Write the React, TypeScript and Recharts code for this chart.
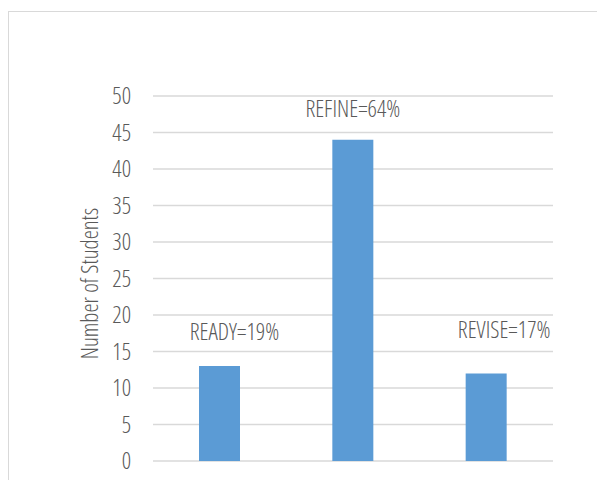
import { BarChart, Bar, XAxis, YAxis, CartesianGrid, LabelList } from "recharts";

const categories = ["READY", "REFINE", "REVISE"];
const students = [13, 44, 12];
const barLabels = ["READY=19%", "REFINE=64%", "REVISE=17%"];
const yTicks = [0, 5, 10, 15, 20, 25, 30, 35, 40, 45, 50];

// label offsets relative to the top-centre of each bar
const LABEL_OFFSETS = [
  { dx: 15, dy: -35 },
  { dx: 0, dy: -32 },
  { dx: 18, dy: -44 },
];

const data = categories.map((c, i) => ({ name: c, value: students[i], label: barLabels[i] }));

const FONT = "'Open Sans', 'Liberation Sans Narrow', sans-serif";
const TEXT_COLOR = "#595959";

const textStyle = {
  fontFamily: FONT,
  fontStretch: "semi-condensed" as const,
  fontWeight: 300,
  fontSize: 23,
  fill: TEXT_COLOR,
};

function BarLabel(props: any) {
  const { x, y, width, index } = props;
  const off = LABEL_OFFSETS[index] || { dx: 0, dy: -30 };
  return (
    <text
      x={x + width / 2 + off.dx}
      y={y + off.dy}
      textAnchor="middle"
      dominantBaseline="central"
      style={textStyle}
    >
      {barLabels[index]}
    </text>
  );
}

function AxisTitle(props: any) {
  const { viewBox } = props;
  const cx = 80;
  const cy = viewBox.y + viewBox.height / 2 + 5;
  return (
    <text
      x={cx}
      y={cy}
      transform={`rotate(-90 ${cx} ${cy})`}
      textAnchor="middle"
      dominantBaseline="central"
      style={textStyle}
    >
      Number of Students
    </text>
  );
}

export default function App() {
  return (
    <div style={{ marginTop: 3, width: 620, height: 500, border: "1px solid #d9d9d9", background: "#fff" }}>
      <BarChart
        width={600}
        height={480}
        data={data}
        margin={{ top: 84, right: 56, bottom: 31, left: 0 }}
      >
        <CartesianGrid vertical={false} stroke="#d9d9d9" strokeWidth={1.3} />
        <XAxis dataKey="name" hide />
        <YAxis
          width={144}
          domain={[0, 50]}
          ticks={yTicks}
          interval={0}
          axisLine={false}
          tickLine={false}
          tickMargin={16}
          tick={{ ...textStyle }}
          label={<AxisTitle />}
        />
        <Bar dataKey="value" fill="#5b9bd5" barSize={41} isAnimationActive={false}>
          <LabelList dataKey="label" content={<BarLabel />} />
        </Bar>
      </BarChart>
    </div>
  );
}
